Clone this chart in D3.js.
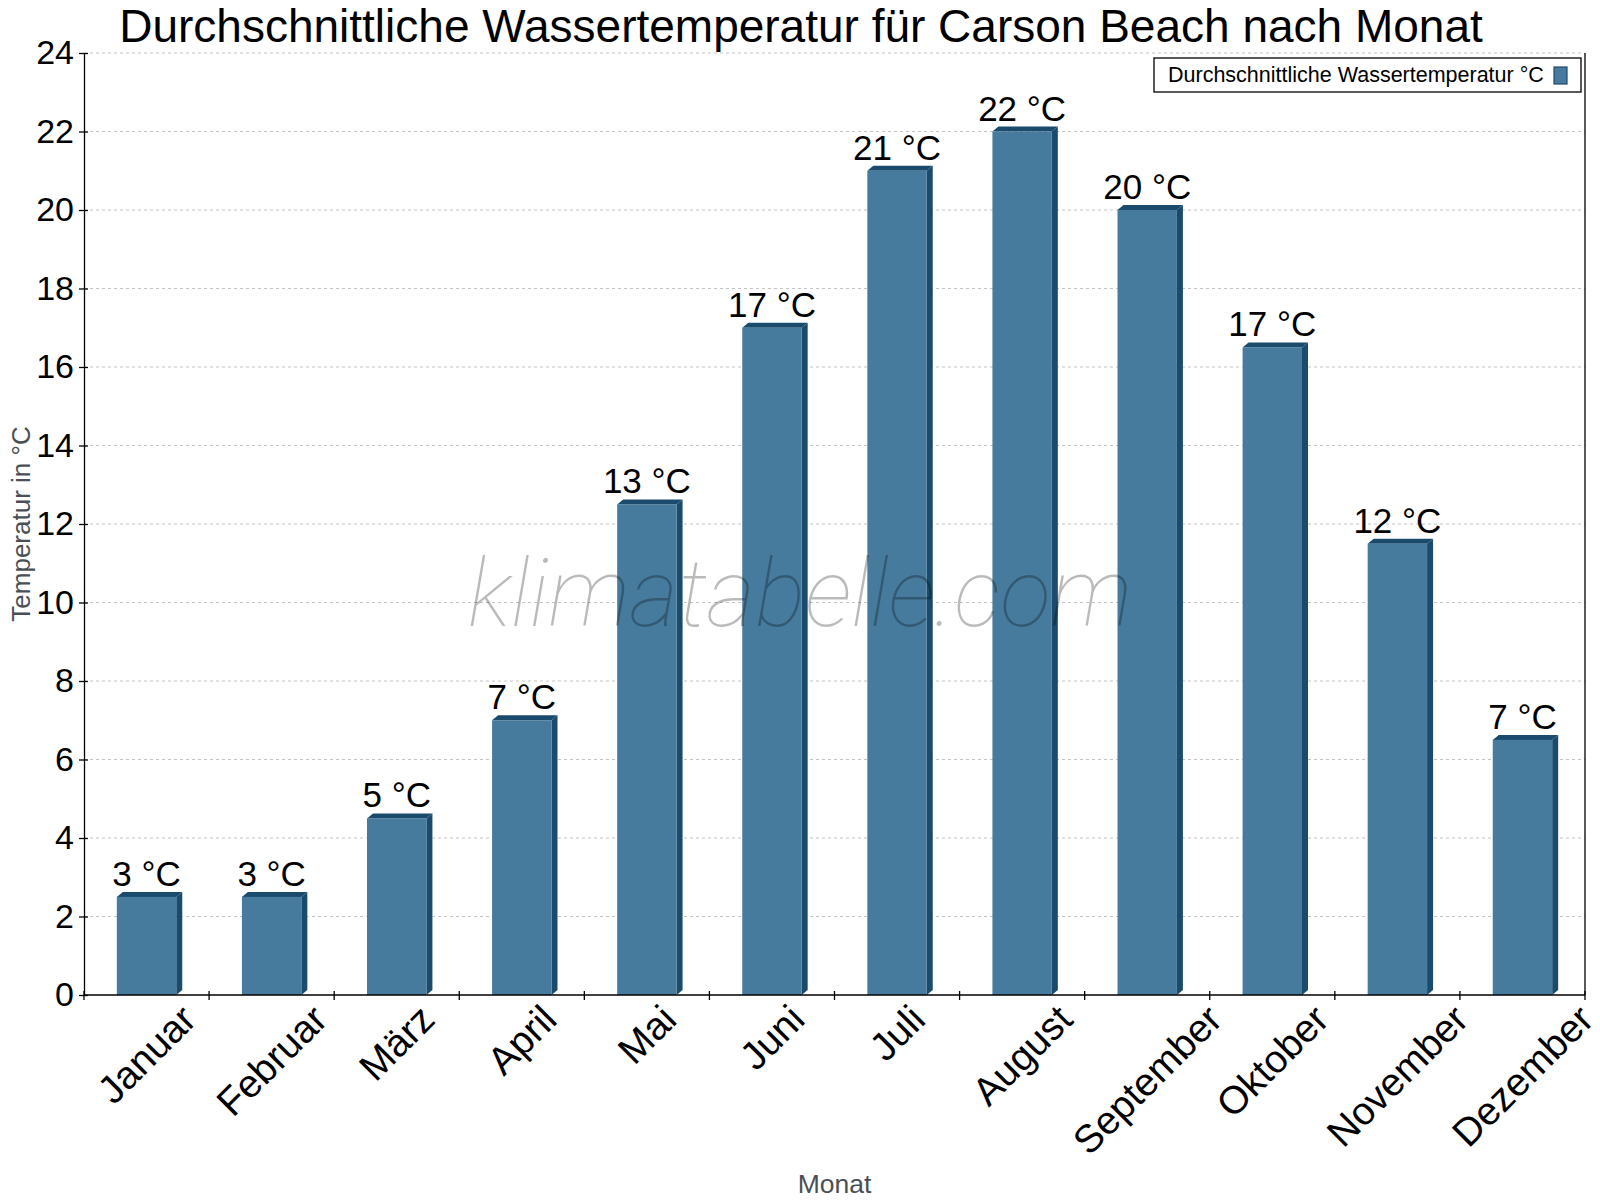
<!DOCTYPE html>
<html>
<head>
<meta charset="utf-8">
<title>Wassertemperatur Carson Beach</title>
<script src="https://cdn.jsdelivr.net/npm/d3@7"></script>
<style>
  body { margin: 0; background: #fff; }
  svg { display: block; font-family: 'Liberation Sans', Arial, sans-serif; }
  .grid line { stroke: #c4c4c4; stroke-dasharray: 3,3; }
  .axis path, .axis line { stroke: #000; stroke-width: 1.3; }
  .axis text { fill: #000; }
  .axis-title { fill: #4a4f55; font-size: 26.5px; }
</style>
</head>
<body>
<svg id="chart"></svg>
<script>
// Data
const months = ['Januar', 'Februar', 'März', 'April', 'Mai', 'Juni', 'Juli',
  'August', 'September', 'Oktober', 'November', 'Dezember'];
const waterTemp = [2.5, 2.5, 4.5, 7, 12.5, 17, 21, 22, 20, 16.5, 11.5, 6.5];
const yTicks = [0, 2, 4, 6, 8, 10, 12, 14, 16, 18, 20, 22, 24];

const chartTitle = 'Durchschnittliche Wassertemperatur für Carson Beach nach Monat';
const seriesName = 'Durchschnittliche Wassertemperatur °C';
const xLabel = 'Monat';
const yLabel = 'Temperatur in °C';

class BarChart {

  constructor(_config) {
    this.config = {
      parentElement: _config.parentElement,
      containerWidth: _config.containerWidth || 1600,
      containerHeight: _config.containerHeight || 1200,
      margin: _config.margin || {top: 53, right: 15, bottom: 205, left: 84},
      depth: {dx: 6, dy: 5},
      front: '#467b9d',
      dark: '#1b4b6c'
    };
    this.initVis();
  }

  initVis() {
    let vis = this;
    const m = vis.config.margin;

    vis.width = vis.config.containerWidth - m.left - m.right;
    vis.height = vis.config.containerHeight - m.top - m.bottom;

    vis.svg = d3.select(vis.config.parentElement)
        .attr('width', vis.config.containerWidth)
        .attr('height', vis.config.containerHeight);

    vis.chart = vis.svg.append('g')
        .attr('transform', `translate(${m.left},${m.top})`);

    vis.xScale = d3.scaleBand()
        .domain(months)
        .range([0, vis.width])
        .paddingInner(0)
        .paddingOuter(0);

    vis.yScale = d3.scaleLinear()
        .domain([0, 24])
        .range([vis.height, 0]);

    vis.renderVis();
  }

  renderVis() {
    let vis = this;
    const bw = vis.xScale.bandwidth();
    const barW = bw * 0.475;
    const {dx, dy} = vis.config.depth;

    // dashed gridlines
    vis.chart.append('g')
        .attr('class', 'grid')
      .selectAll('line')
        .data(yTicks.filter(d => d > 0))
      .join('line')
        .attr('x1', 0)
        .attr('x2', vis.width)
        .attr('y1', d => vis.yScale(d))
        .attr('y2', d => vis.yScale(d));

    // right frame line
    vis.chart.append('line')
        .attr('x1', vis.width).attr('x2', vis.width)
        .attr('y1', 0).attr('y2', vis.height)
        .attr('stroke', '#000')
        .attr('stroke-width', 1.3);

    const data = months.map((m, i) => ({month: m, value: waterTemp[i]}));

    const bars = vis.chart.selectAll('.bar')
        .data(data)
      .join('g')
        .attr('class', 'bar');

    const x0 = d => vis.xScale(d.month) + (bw - barW) / 2;

    // side face
    bars.append('path')
        .attr('fill', vis.config.dark)
        .attr('d', d => {
          const xr = x0(d) + barW, yt = vis.yScale(d.value), yb = vis.yScale(0);
          return `M${xr},${yt}L${xr + dx},${yt - dy}L${xr + dx},${yb - dy}L${xr},${yb}Z`;
        });

    // top face
    bars.append('path')
        .attr('fill', vis.config.dark)
        .attr('d', d => {
          const xl = x0(d), yt = vis.yScale(d.value);
          return `M${xl},${yt}L${xl + dx},${yt - dy}L${xl + barW + dx},${yt - dy}L${xl + barW},${yt}Z`;
        });

    // front face
    bars.append('rect')
        .attr('fill', vis.config.front)
        .attr('x', x0)
        .attr('y', d => vis.yScale(d.value))
        .attr('width', barW)
        .attr('height', d => vis.yScale(0) - vis.yScale(d.value));

    // watermark, drawn over the bars like in the reference
    vis.svg.append('text')
        .attr('x', 800)
        .attr('y', 626)
        .attr('text-anchor', 'middle')
        .style('font-family', 'Roboto, sans-serif')
        .style('font-weight', 100)
        .style('font-style', 'italic')
        .style('font-size', '94px')
        .attr('fill', '#000')
        .attr('fill-opacity', 0.27)
        .text('klimatabelle.com');

    // value labels
    vis.chart.selectAll('.value-label')
        .data(data)
      .join('text')
        .attr('class', 'value-label')
        .attr('x', d => vis.xScale(d.month) + bw / 2)
        .attr('y', d => vis.yScale(d.value) - 11)
        .attr('text-anchor', 'middle')
        .style('font-size', '35px')
        .attr('fill', '#000')
        .text(d => Math.round(d.value) + ' °C');

    // y axis
    vis.yAxis = d3.axisLeft(vis.yScale)
        .tickValues(yTicks)
        .tickSize(5)
        .tickPadding(5)
        .tickSizeOuter(0);

    vis.yAxisG = vis.chart.append('g')
        .attr('class', 'axis y-axis')
        .call(vis.yAxis);
    vis.yAxisG.selectAll('.tick line').attr('x1', 4);
    vis.yAxisG.selectAll('.tick text')
        .style('font-size', '34px')
        .style('font-family', "'Liberation Sans', Arial, sans-serif");

    // x axis line and boundary ticks
    vis.xAxisG = vis.chart.append('g')
        .attr('class', 'axis x-axis')
        .attr('transform', `translate(0,${vis.height})`);

    vis.xAxisG.append('line')
        .attr('x1', 0).attr('x2', vis.width)
        .attr('y1', 0).attr('y2', 0);

    const bounds = months.map(m => vis.xScale(m)).concat([vis.width]);
    vis.xAxisG.selectAll('.xtick')
        .data(bounds)
      .join('line')
        .attr('class', 'xtick')
        .attr('x1', d => d).attr('x2', d => d)
        .attr('y1', -4).attr('y2', 5);

    // rotated month labels, bbox centered under the band
    const labelTop = 2;
    vis.xAxisG.selectAll('.xlabel')
        .data(months)
      .join('g')
        .attr('class', 'xlabel')
        .each(function(m) {
          const g = d3.select(this);
          g.append('text')
              .attr('text-anchor', 'middle')
              .attr('transform', 'rotate(-45)')
              .style('font-size', '39px')
              .text(m);
          const b = this.getBBox();
          const cx = vis.xScale(m) + bw / 2;
          g.attr('transform', `translate(${cx - (b.x + b.width / 2)},${labelTop - b.y})`);
        });

    // axis titles
    vis.svg.append('text')
        .attr('class', 'axis-title')
        .attr('x', vis.config.margin.left + vis.width / 2)
        .attr('y', 1193)
        .attr('text-anchor', 'middle')
        .text(xLabel);

    vis.svg.append('text')
        .attr('class', 'axis-title')
        .attr('transform', `translate(30,${vis.config.margin.top + vis.height / 2}) rotate(-90)`)
        .attr('text-anchor', 'middle')
        .style('font-size', '26px')
        .text(yLabel);

    // title
    vis.svg.append('text')
        .attr('x', 801)
        .attr('y', 42)
        .attr('text-anchor', 'middle')
        .style('font-size', '46px')
        .attr('fill', '#000')
        .text(chartTitle);

    // legend
    const legend = vis.svg.append('g')
        .attr('transform', 'translate(1154,58)');
    legend.append('rect')
        .attr('width', 427)
        .attr('height', 34)
        .attr('fill', '#fff')
        .attr('stroke', '#000')
        .attr('stroke-width', 1.3);
    legend.append('text')
        .attr('x', 14)
        .attr('y', 24)
        .style('font-size', '21.5px')
        .attr('fill', '#000')
        .text(seriesName);
    legend.append('rect')
        .attr('x', 400)
        .attr('y', 9)
        .attr('width', 13)
        .attr('height', 17)
        .attr('fill', vis.config.front)
        .attr('stroke', vis.config.dark)
        .attr('stroke-width', 1.2);
  }
}

const chart = new BarChart({parentElement: '#chart'});
</script>
</body>
</html>
